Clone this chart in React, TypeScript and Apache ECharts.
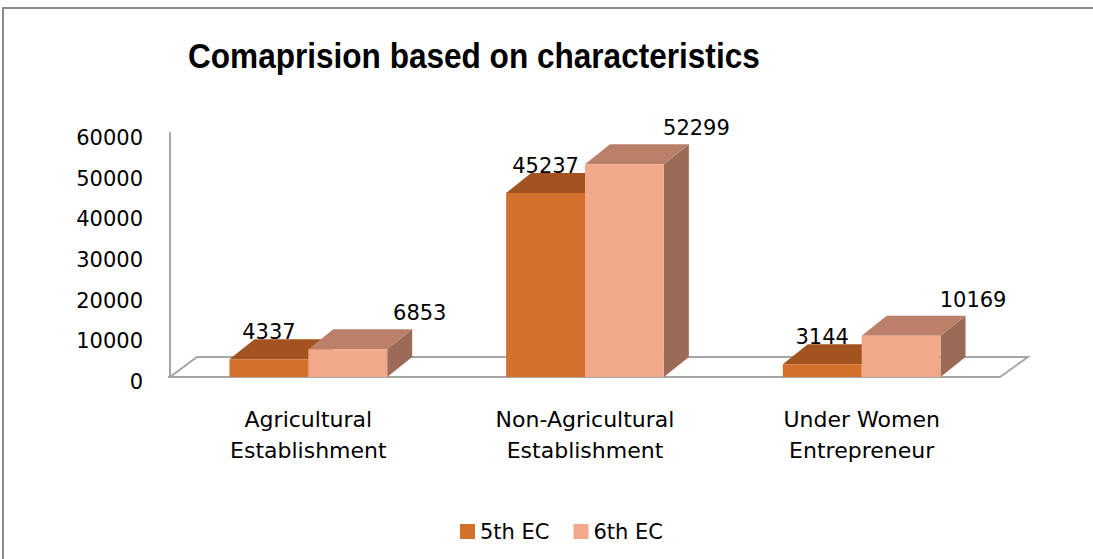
import React, { useEffect, useRef } from "react";
import * as echarts from "echarts";

const categories = [
  "Agricultural\nEstablishment",
  "Non-Agricultural\nEstablishment",
  "Under Women\nEntrepreneur",
];
const seriesNames = ["5th EC", "6th EC"];
const ec5 = [4337, 45237, 3144];
const ec6 = [6853, 52299, 10169];
const yMax = 60000;
const yInterval = 10000;
const titleText = "Comaprision based on characteristics";

const FONT = "'DejaVu Sans', sans-serif";
const DX = 25;
const DY = -20;

const colors5 = { front: "#D3702B", top: "#A2531F", side: "#8E4A1C" };
const colors6 = { front: "#F2A88B", top: "#BA806A", side: "#9C6B57" };

function makeBar(side: "left" | "right", c: any, labelDx: number, labelDy: number) {
  return (params: any, api: any) => {
    const cat = api.value(0);
    const v = api.value(1);
    const base = api.coord([cat, 0]);
    const top = api.coord([cat, v]);
    const band = api.size([1, 0])[0];
    const w = band * 0.285;
    const x0 = side === "left" ? base[0] - w : base[0];
    const x1 = x0 + w;
    const yb = base[1];
    const yt = top[1];
    return {
      type: "group",
      children: [
        {
          type: "polygon",
          shape: { points: [[x1, yt], [x1 + DX, yt + DY], [x1 + DX, yb + DY], [x1, yb]] },
          style: { fill: c.side },
        },
        {
          type: "polygon",
          shape: { points: [[x0, yt], [x0 + DX, yt + DY], [x1 + DX, yt + DY], [x1, yt]] },
          style: { fill: c.top },
        },
        {
          type: "rect",
          shape: { x: x0, y: yt, width: x1 - x0, height: yb - yt },
          style: { fill: c.front },
        },
        {
          type: "text",
          style: {
            text: String(v),
            x: (x0 + x1) / 2 + labelDx,
            y: yt + labelDy,
            align: "center",
            verticalAlign: "middle",
            textAlign: "center",
            textVerticalAlign: "middle",
            font: `21px ${FONT}`,
            fill: "#000",
          },
        },
      ],
    };
  };
}

export default function App() {
  const ref = useRef<HTMLDivElement>(null);
  useEffect(() => {
    if (!ref.current) return;
    const chart = echarts.init(ref.current, undefined, { renderer: "svg" });
    chart.setOption({
      animation: false,
      backgroundColor: "#fff",
      textStyle: { fontFamily: FONT },
      graphic: [
        {
          type: "rect",
          z: -10,
          shape: { x: 3, y: 8, width: 1300, height: 800 },
          style: { fill: "none", stroke: "#8C8C8C", lineWidth: 2 },
        },
        {
          type: "text",
          x: 188,
          y: 55,
          scaleX: 0.877,
          style: {
            text: titleText,
            font: "bold 36px 'Liberation Sans', sans-serif",
            fill: "#000",
            verticalAlign: "middle",
            textVerticalAlign: "middle",
          },
        },
      ],
      legend: {
        data: [
          { name: seriesNames[0], itemStyle: { color: colors5.front } },
          { name: seriesNames[1], itemStyle: { color: colors6.front } },
        ],
        left: 455,
        top: 516,
        icon: "rect",
        itemWidth: 15,
        itemHeight: 15,
        itemGap: 24,
        textStyle: { fontFamily: FONT, fontSize: 21, color: "#000" },
      },
      grid: { left: 170, right: 93, top: 133, bottom: 182 },
      xAxis: {
        type: "category",
        data: categories,
        axisLine: { show: false },
        axisTick: { show: false },
        axisLabel: {
          fontFamily: FONT,
          fontSize: 22,
          lineHeight: 31,
          color: "#000",
          margin: 27,
        },
      },
      yAxis: {
        type: "value",
        min: 0,
        max: yMax,
        interval: yInterval,
        splitLine: { show: false },
        axisTick: { show: false },
        axisLine: { show: true, lineStyle: { color: "#A6A6A6", width: 2 } },
        axisLabel: {
          fontFamily: FONT,
          fontSize: 21,
          color: "#000",
          margin: 27,
          verticalAlign: "top",
          lineHeight: 10,
          formatter: (v: number) => String(v),
        },
      },
      series: [
        {
          type: "custom",
          name: "floor",
          silent: true,
          z: 1,
          data: [[0, 0]],
          encode: { x: 0, y: 1 },
          renderItem: (params: any) => {
            const cs = params.coordSys;
            const yb = cs.y + cs.height;
            const xl = cs.x;
            const xr = cs.x + cs.width;
            return {
              type: "polygon",
              shape: {
                points: [
                  [xl - 2, yb],
                  [xr, yb],
                  [xr + 28, yb - 20],
                  [xl + 27, yb - 20],
                  [xl, yb],
                ],
              },
              style: { fill: "none", stroke: "#A6A6A6", lineWidth: 2 },
            };
          },
        },
        {
          type: "custom",
          name: seriesNames[0],
          z: 2,
          itemStyle: { color: colors5.front },
          data: ec5.map((v, i) => [i, v]),
          encode: { x: 0, y: 1 },
          renderItem: makeBar("left", colors5, 0, -27),
        },
        {
          type: "custom",
          name: seriesNames[1],
          z: 3,
          itemStyle: { color: colors6.front },
          data: ec6.map((v, i) => [i, v]),
          encode: { x: 0, y: 1 },
          renderItem: makeBar("right", colors6, 72, -36),
        },
      ],
    });
    return () => chart.dispose();
  }, []);
  return (
    <div
      ref={ref}
      style={{ position: "fixed", left: 0, top: 0, width: 1093, height: 559 }}
    />
  );
}
